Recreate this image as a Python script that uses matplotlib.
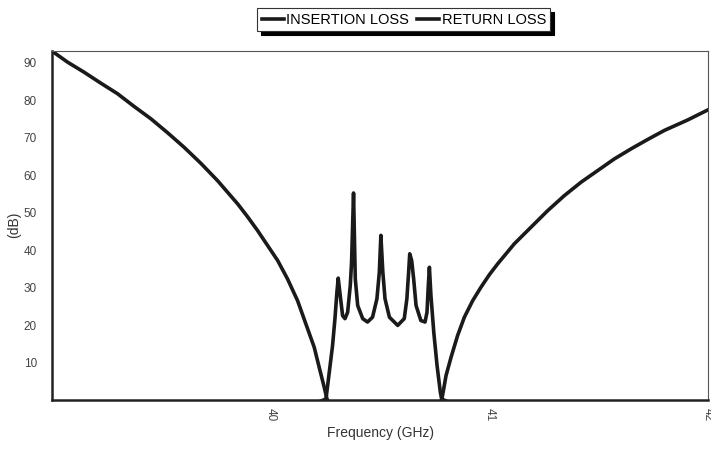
import matplotlib
matplotlib.use('Agg')
import matplotlib.pyplot as plt

# Insertion loss (dB) vs frequency (GHz)
il_freq = [39.0, 39.070, 39.146, 39.222, 39.298, 39.374, 39.451, 39.527, 39.603,
           39.680, 39.756, 39.802, 39.848, 39.893, 39.939, 39.985, 40.031, 40.076,
           40.122, 40.160, 40.198, 40.221, 40.244, 40.256, 40.27,
           40.5, 40.775, 40.786, 40.801, 40.824, 40.854, 40.885, 40.923, 40.961,
           40.999, 41.037, 41.114, 41.190, 41.266, 41.342, 41.419, 41.495, 41.571,
           41.648, 41.724, 41.800, 41.907, 42.0]
il_db = [93.0, 90.1, 87.4, 84.5, 81.7, 78.3, 75.0, 71.3, 67.4,
         63.1, 58.5, 55.4, 52.3, 48.9, 45.2, 41.2, 37.2, 32.3,
         26.5, 20.3, 14.1, 8.7, 3.4, 0.4, -1.5,
         -1.5, -1.5, 1.5, 6.5, 11.4, 17.2, 22.1, 26.5, 30.1,
         33.4, 36.3, 41.7, 46.1, 50.5, 54.5, 58.1, 61.2, 64.3,
         67.0, 69.5, 71.9, 74.7, 77.4]

# Return loss (dB) vs frequency (GHz)
rl_freq = [39.0, 40.22, 40.252, 40.267, 40.282, 40.293, 40.302, 40.308, 40.317,
           40.328, 40.339, 40.351, 40.363, 40.369, 40.378, 40.386, 40.397, 40.420,
           40.442, 40.465, 40.485, 40.496, 40.503, 40.512, 40.522, 40.542, 40.580,
           40.610, 40.622, 40.630, 40.635, 40.644, 40.653, 40.664, 40.686, 40.705,
           40.714, 40.720, 40.725, 40.732, 40.745, 40.760, 40.775, 40.781, 40.81, 42.0]
rl_db = [-3.0, -0.5, 0.3, 7.4, 14.5, 21.7, 28.8, 32.5, 27.9,
         22.5, 21.7, 23.4, 30.5, 36.7, 55.2, 32.3, 25.2, 21.7,
         20.8, 22.1, 27.0, 34.1, 43.9, 34.1, 27.0, 22.1, 19.9,
         21.7, 27.0, 34.1, 39.0, 37.2, 32.3, 25.2, 21.2, 20.8,
         23.4, 30.5, 35.4, 27.9, 18.1, 9.2, 2.1, 0.3, -0.5, -3.0]

x_ticks = [40, 41, 42]
y_ticks = [10, 20, 30, 40, 50, 60, 70, 80, 90]

plt.rcParams['font.family'] = ['Liberation Sans', 'DejaVu Sans']

fig = plt.figure(figsize=(7.11, 4.51), dpi=100)
ax = fig.add_axes([0.0735, 0.113, 0.9225, 0.775])

ax.plot(il_freq, il_db, color='#1a1a1a', linewidth=2.6, label='INSERTION LOSS',
        solid_joinstyle='round')
ax.plot(rl_freq, rl_db, color='#1a1a1a', linewidth=2.6, label='RETURN LOSS',
        solid_joinstyle='round')

ax.set_xlim(39.0, 42.0)
ax.set_ylim(0, 93.2)
ax.set_xticks(x_ticks)
ax.set_xticklabels([str(t) for t in x_ticks], rotation=270)
ax.set_yticks(y_ticks)
ax.tick_params(length=0, labelsize=8.5, colors='#444444')
ax.tick_params(axis='y', pad=11)
ax.tick_params(axis='x', pad=6)

ax.set_xlabel('Frequency (GHz)', fontsize=10, color='#333333', labelpad=3)
ax.set_ylabel('(dB)', fontsize=10, color='#333333', labelpad=2)

for side in ['left', 'bottom']:
    ax.spines[side].set_linewidth(1.8)
    ax.spines[side].set_color('#222222')
for side in ['top', 'right']:
    ax.spines[side].set_linewidth(0.8)
    ax.spines[side].set_color('#555555')

leg = fig.legend(loc='center', bbox_to_anchor=(0.568, 0.956), ncol=2,
                 frameon=True, shadow={'color': 'black', 'alpha': 1, 'ox': 2.5, 'oy': -2.5},
                 fancybox=False, fontsize=10.5, handlelength=1.5,
                 handletextpad=0.15, columnspacing=0.6, borderpad=0.3,
                 edgecolor='#333333')
leg.get_frame().set_linewidth(0.8)

fig.savefig('out.png', dpi=100)
